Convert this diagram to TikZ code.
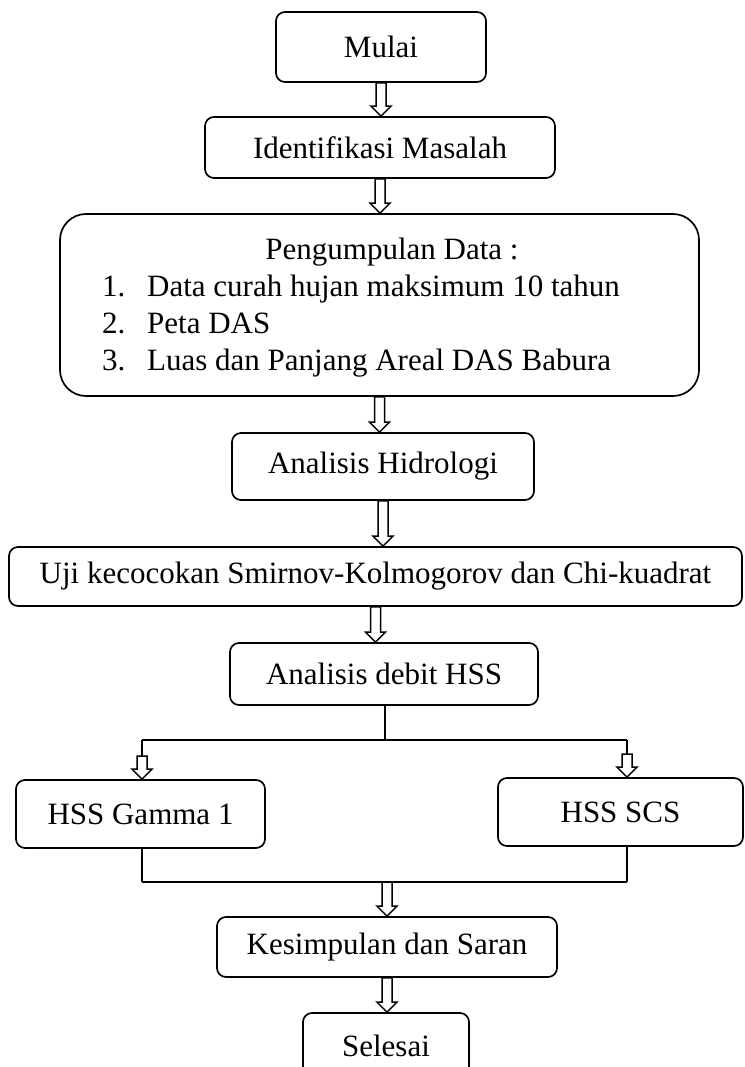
\documentclass[tikz,border=0pt]{standalone}
\usepackage{fontspec}
\setmainfont{Liberation Serif}
\usetikzlibrary{calc}
\tikzset{
  flowbox/.style={draw, line width=1.7pt, rounded corners=9pt, inner sep=0pt, font=\fontsize{31}{37}\selectfont},
  txt/.style={inner sep=0pt, font=\fontsize{31}{37}\selectfont},
  blockarrow/.style={draw, line width=1.5pt, fill=white, line join=miter},
  joinline/.style={draw, line width=1.7pt}
}
\newcommand{\blockarr}[2]{%
  \path[blockarrow] let \p1=(#1), \p2=(#2) in
    (\x1-5pt,\y1) -- (\x1+5pt,\y1) -- (\x1+5pt,\y2+10pt) -- (\x1+10pt,\y2+10pt)
    -- (\x1,\y2) -- (\x1-10pt,\y2+10pt) -- (\x1-5pt,\y2+10pt) -- cycle;}
\begin{document}
\begin{tikzpicture}[x=1pt,y=-1pt]
\useasboundingbox (0,0) rectangle (744,1067);
% boxes
\node[flowbox, minimum width=210pt, minimum height=70pt] (mulai) at (381,47) {Mulai};
\node[flowbox, minimum width=350pt, minimum height=61pt] (ident) at (380,147.5) {Identifikasi Masalah};
\node[flowbox, rounded corners=26pt, minimum width=639pt, minimum height=182pt] (pd) at (379.5,305) {};
\node[txt, anchor=base] (pdh) at (392,259) {Pengumpulan Data :};
\node[txt, anchor=base west] (n1) at (102,296) {1.};
\node[txt, anchor=base west] (t1) at (147,296) {Data curah hujan maksimum 10 tahun};
\node[txt, anchor=base west] (n2) at (102,333) {2.};
\node[txt, anchor=base west] (t2) at (147,333) {Peta DAS};
\node[txt, anchor=base west] (n3) at (102,370) {3.};
\node[txt, anchor=base west] (t3) at (147,370) {Luas dan Panjang Areal DAS Babura};
\node[flowbox, minimum width=302pt, minimum height=67pt] (hidro) at (383,466.5) {Analisis Hidrologi};
\node[flowbox, minimum width=733pt, minimum height=59pt] (uji) at (375.5,576.5) {Uji kecocokan Smirnov-Kolmogorov dan Chi-kuadrat};
\node[flowbox, minimum width=308pt, minimum height=62pt] (debit) at (384,674) {Analisis debit HSS};
\node[flowbox, minimum width=249pt, minimum height=68pt] (gamma) at (140.5,814) {HSS Gamma 1};
\node[flowbox, minimum width=245pt, minimum height=68pt] (scs) at (620.5,812) {HSS SCS};
\node[flowbox, minimum width=340pt, minimum height=60pt] (kes) at (387,947) {Kesimpulan dan Saran};
\node[flowbox, minimum width=166pt, minimum height=66pt] (sel) at (386,1046) {Selesai};
% coordinates for branching
\coordinate (split) at (385,740);
\coordinate (splitL) at (142,740);
\coordinate (splitR) at (627,740);
\coordinate (aL) at (142,756);
\coordinate (aR) at (627,754);
\coordinate (mergeL) at (142,882);
\coordinate (mergeR) at (627,882);
\coordinate (merge) at (387,882);
% arrows
\blockarr{mulai.south}{ident.north}
\blockarr{ident.south}{pd.north}
\blockarr{pd.south}{hidro.north}
\blockarr{hidro.south}{uji.north}
\blockarr{uji.south}{debit.north}
% branch lines
\draw[joinline] (debit.south -| split) -- (split);
\draw[joinline] (splitL) -- (splitR);
\draw[joinline] (splitL) -- (aL);
\draw[joinline] (splitR) -- (aR);
\blockarr{aL}{gamma.north -| aL}
\blockarr{aR}{scs.north -| aR}
\draw[joinline] (gamma.south -| mergeL) -- (mergeL);
\draw[joinline] (scs.south -| mergeR) -- (mergeR);
\draw[joinline] (mergeL) -- (mergeR);
\blockarr{merge}{kes.north}
\blockarr{kes.south}{sel.north}
\end{tikzpicture}
\end{document}
